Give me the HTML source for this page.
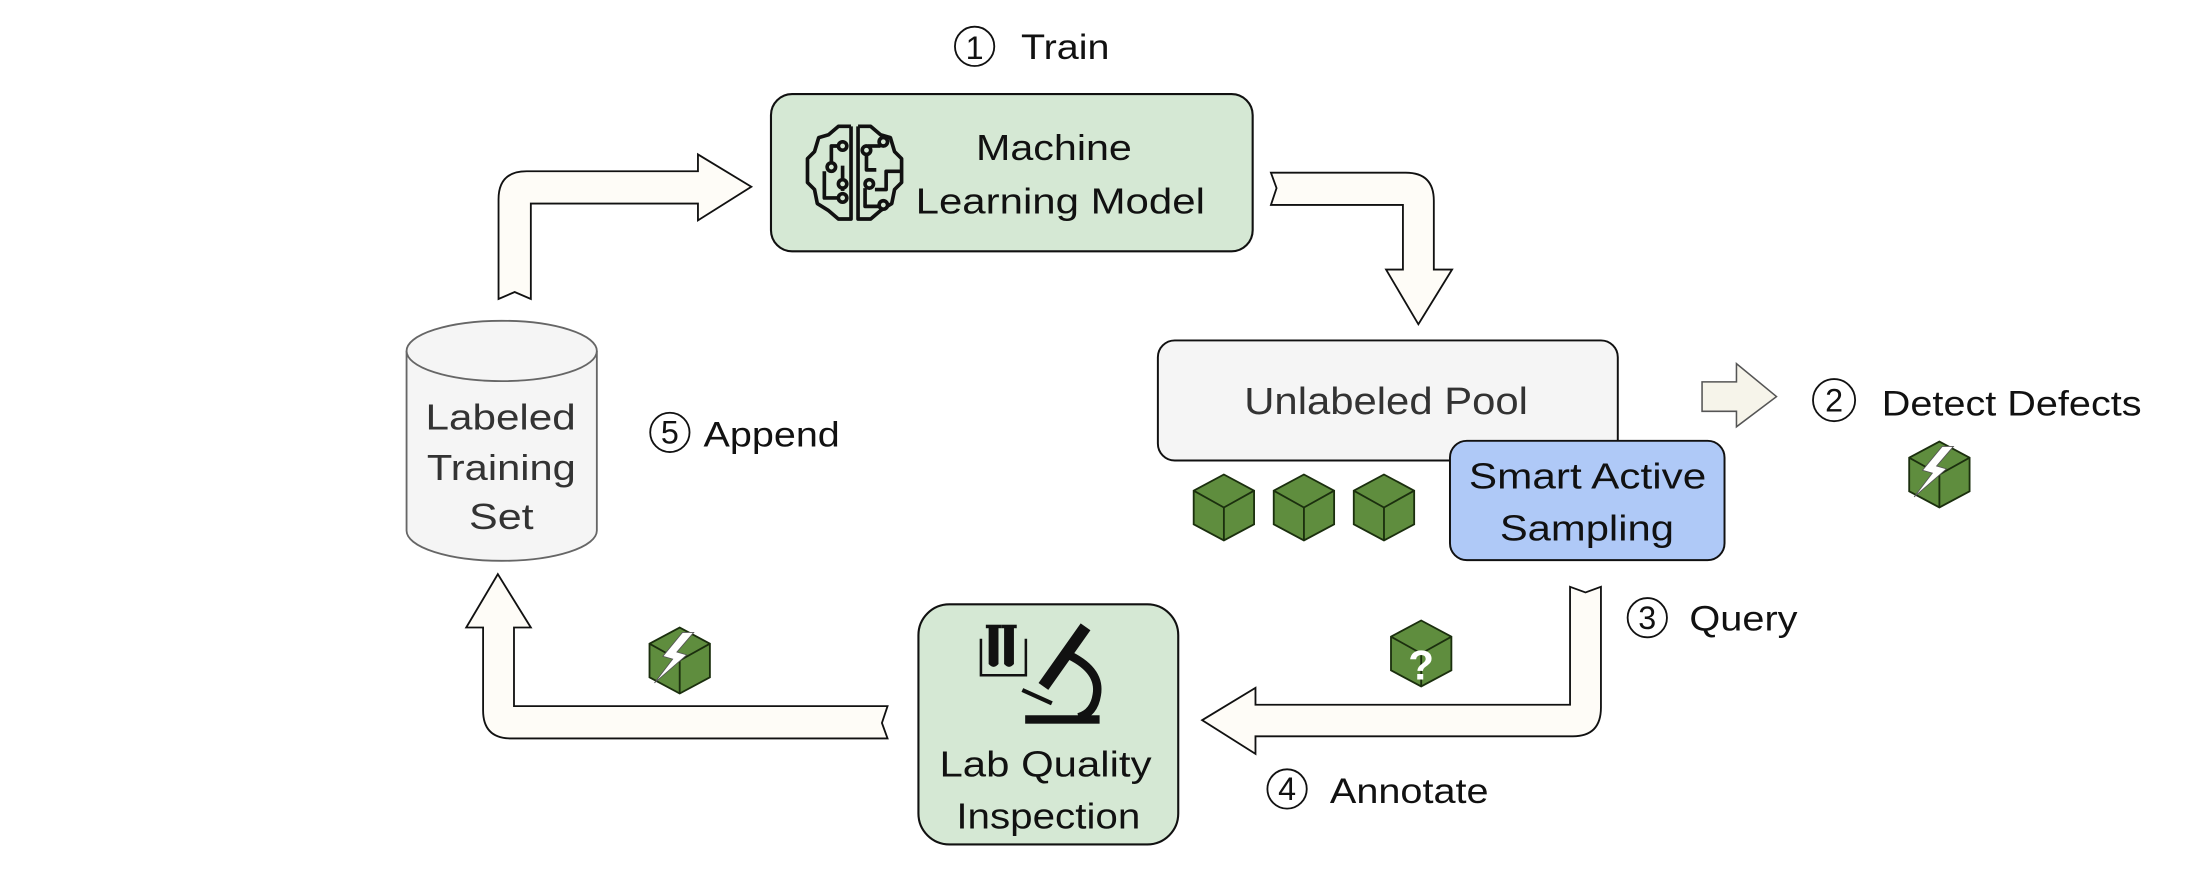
<!DOCTYPE html>
<html><head><meta charset="utf-8"><style>
html,body{margin:0;padding:0;background:#fff;}
svg{display:block;}
text{font-family:"Liberation Sans",Arial,sans-serif;}
</style></head><body>
<svg width="2202" height="876" viewBox="0 0 1568 624" preserveAspectRatio="none" xmlns="http://www.w3.org/2000/svg">
<defs>
<g id="cube">
  <polygon points="0,-23.5 21.5,-12 21.5,12 0,23.5 -21.5,12 -21.5,-12" fill="#5f8d3e" stroke="#1b2f0e" stroke-width="1.3"/>
  <polyline points="-21.5,-12 0,0 21.5,-12" fill="none" stroke="#1b2f0e" stroke-width="1.3"/>
  <line x1="0" y1="0" x2="0" y2="23.5" stroke="#1b2f0e" stroke-width="1.3"/>
</g>
<g id="bolt">
  <use href="#cube"/>
  <polygon points="10,-20 -2,-6 5,-4 -18,16 -5,-1 -12,-3 2,-20" fill="#fff" stroke="#555" stroke-width="0.6"/>
</g>
</defs>

<!-- Arrows -->
<path d="M355,213 L355,142 Q355,122 375,122 L497,122 L497,110 L535,133 L497,157 L497,145 L378,145 L378,213 L366.5,208 Z" fill="#fefcf7" stroke="#111" stroke-width="1.3"/>
<path d="M905,123 L909,134 L905,146 L999,146 L999,192 L987,192 L1010,231 L1034,192 L1021,192 L1021,143 Q1021,123 1001,123 Z" fill="#fefcf7" stroke="#111" stroke-width="1.3"/>
<path d="M1118,418 L1129,422 L1140,418 L1140,504 Q1140,524.5 1120,524.5 L894,524.5 L894,537 L856,513 L894,490 L894,502 L1118,502 Z" fill="#fefcf7" stroke="#111" stroke-width="1.3"/>
<path d="M632,503 L366,503 L366,447 L378,447 L354.5,409 L332,447 L344,447 L344,506 Q344,526 364,526 L632,526 L628,515 Z" fill="#fefcf7" stroke="#111" stroke-width="1.3"/>
<path d="M1212,272 L1236.5,272 L1236.5,259 L1265,282.5 L1236.5,304 L1236.5,293 L1212,293 Z" fill="#f6f4ea" stroke="#555" stroke-width="1.1"/>

<!-- ML box -->
<rect x="549" y="67" width="343" height="112" rx="15" fill="#d5e8d4" stroke="#111" stroke-width="1.5"/>
<text x="695" y="114" font-size="26" textLength="111" lengthAdjust="spacingAndGlyphs" fill="#111">Machine</text>
<text x="652" y="152" font-size="26" textLength="206" lengthAdjust="spacingAndGlyphs" fill="#111">Learning Model</text>
<g fill="none" stroke="#111" stroke-width="2.6" stroke-linejoin="round">
  <polyline points="606,90 597,90 590,96 583,98 580,108 575,113 575,130 580,135 582,145 590,150 597,156 606,156 606,90"/>
  <polyline points="611,90 620,90 627,96 634,98 637,108 642,113 642,130 637,135 635,145 627,150 620,156 611,156 611,90"/>
  <polyline points="600,104 592,104 592,116"/>
  <polyline points="600,118 600,136"/>
  <polyline points="587,122 587,141 598,141"/>
  <polyline points="617,110 617,121 624,121"/>
  <polyline points="618,104 627,104"/>
  <polyline points="642,122 631,122 631,135 623,135"/>
  <polyline points="616,134 616,147 626,147"/>
  <circle cx="600" cy="104" r="3" fill="#d5e8d4"/>
  <circle cx="592" cy="119" r="3" fill="#d5e8d4"/>
  <circle cx="600" cy="131" r="3" fill="#d5e8d4"/>
  <circle cx="600" cy="141" r="3" fill="#d5e8d4"/>
  <circle cx="629" cy="101" r="3" fill="#d5e8d4"/>
  <circle cx="617" cy="107" r="3" fill="#d5e8d4"/>
  <circle cx="619" cy="131" r="3" fill="#d5e8d4"/>
  <circle cx="629" cy="146" r="3" fill="#d5e8d4"/>
</g>

<!-- Train label -->
<circle cx="694" cy="33" r="14" fill="none" stroke="#111" stroke-width="1.3"/>
<text x="694" y="42" font-size="23" text-anchor="middle" fill="#111">1</text>
<text x="727" y="42" font-size="25" textLength="63" lengthAdjust="spacingAndGlyphs" fill="#111">Train</text>

<!-- Cylinder -->
<path d="M289.5,250 L289.5,378 A67.75,21.5 0 0 0 425,378 L425,250" fill="#f5f5f5" stroke="#666" stroke-width="1.3"/>
<ellipse cx="357.25" cy="250" rx="67.75" ry="21.5" fill="#f5f5f5" stroke="#666" stroke-width="1.3"/>
<text x="303" y="306" font-size="26" textLength="107" lengthAdjust="spacingAndGlyphs" fill="#333">Labeled</text>
<text x="304" y="342" font-size="26" textLength="106" lengthAdjust="spacingAndGlyphs" fill="#333">Training</text>
<text x="334" y="377" font-size="26" textLength="46" lengthAdjust="spacingAndGlyphs" fill="#333">Set</text>

<!-- Append -->
<circle cx="477" cy="308" r="14" fill="none" stroke="#111" stroke-width="1.3"/>
<text x="477" y="316" font-size="23" text-anchor="middle" fill="#111">5</text>
<text x="501" y="318" font-size="25" textLength="97" lengthAdjust="spacingAndGlyphs" fill="#111">Append</text>

<!-- Unlabeled pool -->
<rect x="824.5" y="242.5" width="327.5" height="85.5" rx="12" fill="#f5f5f5" stroke="#111" stroke-width="1.4"/>
<text x="886" y="295" font-size="27" textLength="202" lengthAdjust="spacingAndGlyphs" fill="#333">Unlabeled Pool</text>
<rect x="1032.5" y="314" width="195.5" height="85" rx="12" fill="#afc9f7" stroke="#111" stroke-width="1.4"/>
<text x="1046" y="348" font-size="26" textLength="169" lengthAdjust="spacingAndGlyphs" fill="#111">Smart Active</text>
<text x="1068" y="385" font-size="26" textLength="124" lengthAdjust="spacingAndGlyphs" fill="#111">Sampling</text>

<use href="#cube" x="871.5" y="361.5"/>
<use href="#cube" x="928.5" y="361.5"/>
<use href="#cube" x="985.5" y="361.5"/>

<!-- Detect defects -->
<circle cx="1306" cy="285" r="15" fill="none" stroke="#111" stroke-width="1.3"/>
<text x="1306" y="293" font-size="23" text-anchor="middle" fill="#111">2</text>
<text x="1340" y="296" font-size="25" textLength="185" lengthAdjust="spacingAndGlyphs" fill="#111">Detect Defects</text>
<use href="#bolt" x="1381" y="338"/>

<!-- Query -->
<circle cx="1173" cy="440" r="14" fill="none" stroke="#111" stroke-width="1.3"/>
<text x="1173" y="448" font-size="23" text-anchor="middle" fill="#111">3</text>
<text x="1203" y="449" font-size="25" textLength="77" lengthAdjust="spacingAndGlyphs" fill="#111">Query</text>
<use href="#cube" x="1012" y="465.5"/>
<text x="1012" y="484" font-size="30" font-weight="bold" text-anchor="middle" fill="#fff">?</text>

<!-- Annotate -->
<circle cx="916.5" cy="562" r="14" fill="none" stroke="#111" stroke-width="1.3"/>
<text x="916.5" y="570" font-size="23" text-anchor="middle" fill="#111">4</text>
<text x="947" y="572" font-size="25" textLength="113" lengthAdjust="spacingAndGlyphs" fill="#111">Annotate</text>

<!-- Lab box -->
<rect x="654" y="430.5" width="185" height="171" rx="22" fill="#d5e8d4" stroke="#111" stroke-width="1.5"/>
<text x="669" y="553" font-size="26" textLength="151" lengthAdjust="spacingAndGlyphs" fill="#111">Lab Quality</text>
<text x="681" y="590" font-size="26" textLength="131" lengthAdjust="spacingAndGlyphs" fill="#111">Inspection</text>
<!-- test tubes -->
<polyline points="698.5,455 698.5,481 730.5,481 730.5,455" fill="none" stroke="#111" stroke-width="1.8"/>
<path d="M704,446 L704,473 Q707.5,477 711,473 L711,446 Z M715,446 L715,473 Q718.5,477 722,473 L722,446 Z" fill="#111"/>
<rect x="702" y="445" width="11" height="2.5" fill="#111"/>
<rect x="713" y="445" width="11" height="2.5" fill="#111"/>
<!-- microscope -->
<rect x="730" y="509.5" width="53" height="6" fill="#111"/>
<line x1="773" y1="446.5" x2="743" y2="489" stroke="#111" stroke-width="8.5"/>
<path d="M762,467 Q784,478 781,495 Q779,508 768,511" fill="none" stroke="#111" stroke-width="6"/>
<line x1="728" y1="491.5" x2="749" y2="501" stroke="#111" stroke-width="3"/>

<use href="#bolt" x="484" y="470.5"/>
</svg>
</body></html>
